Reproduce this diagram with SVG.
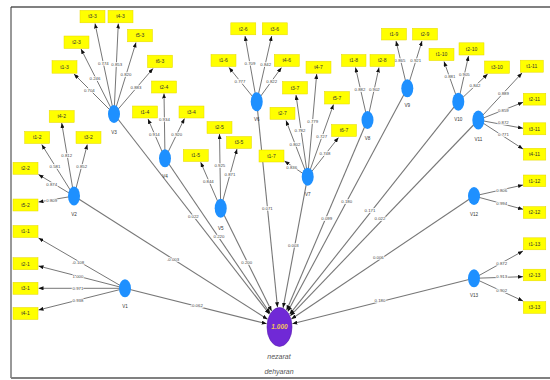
<svg xmlns="http://www.w3.org/2000/svg" width="550" height="380" viewBox="0 0 550 380">
<style>
.frame{stroke:#808080;stroke-width:2;fill:none}
.ln{stroke:#666;stroke-width:0.9;fill:none;marker-end:url(#ah)}
.lc{stroke:#777;stroke-width:1.1;fill:none;marker-end:url(#ah)}
.lbl{font-family:"Liberation Sans",Arial,sans-serif;font-size:4.3px;fill:#444;text-anchor:middle;paint-order:stroke;stroke:#fff;stroke-width:1.6px}
.box rect{fill:#ffff00;stroke:#e6d800;stroke-width:0.5}
.box text{font-family:"Liberation Sans",Arial,sans-serif;font-size:5px;fill:#333;text-anchor:middle}
.lv ellipse{fill:#1e90ff}
.lv text{font-family:"Liberation Sans",Arial,sans-serif;font-size:4.6px;fill:#333;text-anchor:middle}
</style>
<defs>
<marker id="ah" markerWidth="5" markerHeight="4" refX="5" refY="2" orient="auto" markerUnits="userSpaceOnUse"><path d="M0,0 L5,2 L0,4 z" fill="#111"/></marker>
</defs>
<rect width="550" height="380" fill="#fff"/>
<g id="frame">
<line x1="11" y1="7" x2="550" y2="7" class="frame"/>
<line x1="11" y1="7" x2="11" y2="378" stroke="#333" stroke-width="1"/>
<line x1="11" y1="378" x2="550" y2="378" class="frame"/>
</g>
<g id="connectors">
<!-- structural paths to center -->
<line class="lc" x1="125" y1="288.3" x2="266.7" y2="323.8"/>
<line class="lc" x1="74" y1="196" x2="267.5" y2="319.3"/>
<line class="lc" x1="114" y1="114" x2="269.5" y2="314.2"/>
<line class="lc" x1="165" y1="158.3" x2="270.1" y2="313.2"/>
<line class="lc" x1="220.7" y1="208.3" x2="271.6" y2="311.1"/>
<line class="lc" x1="256.7" y1="101.7" x2="277.5" y2="307.2"/>
<line class="lc" x1="307.7" y1="176.7" x2="283.1" y2="307.8"/>
<line class="lc" x1="367.5" y1="120" x2="286.6" y2="310.3"/>
<line class="lc" x1="407.3" y1="88.3" x2="287.8" y2="311.6"/>
<line class="lc" x1="458.3" y1="101.7" x2="289.6" y2="314.3"/>
<line class="lc" x1="478.3" y1="120" x2="290.3" y2="315.8"/>
<line class="lc" x1="474" y1="196" x2="291.4" y2="319"/>
<line class="lc" x1="474" y1="278.3" x2="292.3" y2="323.8"/>
<!-- V1 -->
<line class="ln" x1="125" y1="288.3" x2="38.5" y2="238"/>
<line class="ln" x1="125" y1="288.3" x2="38.5" y2="266"/>
<line class="ln" x1="125" y1="288.3" x2="38.5" y2="288.3"/>
<line class="ln" x1="125" y1="288.3" x2="38.5" y2="310"/>
<!-- V2 -->
<line class="ln" x1="74" y1="196" x2="41.7" y2="144.5"/>
<line class="ln" x1="74" y1="196" x2="61.7" y2="123"/>
<line class="ln" x1="74" y1="196" x2="87.3" y2="144.5"/>
<line class="ln" x1="74" y1="196" x2="38.5" y2="174.5"/>
<line class="ln" x1="74" y1="196" x2="38.5" y2="202"/>
<!-- V3 -->
<line class="ln" x1="114" y1="114" x2="95" y2="23.5"/>
<line class="ln" x1="114" y1="114" x2="118.3" y2="23.5"/>
<line class="ln" x1="114" y1="114" x2="136" y2="42.5"/>
<line class="ln" x1="114" y1="114" x2="81" y2="49"/>
<line class="ln" x1="114" y1="114" x2="153" y2="68.5"/>
<line class="ln" x1="114" y1="114" x2="74" y2="74"/>
<!-- V4 -->
<line class="ln" x1="165" y1="158.3" x2="148" y2="119"/>
<line class="ln" x1="165" y1="158.3" x2="164" y2="93.5"/>
<line class="ln" x1="165" y1="158.3" x2="184.5" y2="118.5"/>
<!-- V5 -->
<line class="ln" x1="220.7" y1="208.3" x2="200.7" y2="162.3"/>
<line class="ln" x1="220.7" y1="208.3" x2="219.5" y2="134"/>
<line class="ln" x1="220.7" y1="208.3" x2="237" y2="149"/>
<!-- V6 -->
<line class="ln" x1="256.7" y1="101.7" x2="229" y2="67.5"/>
<line class="ln" x1="256.7" y1="101.7" x2="245" y2="36"/>
<line class="ln" x1="256.7" y1="101.7" x2="271.7" y2="36"/>
<line class="ln" x1="256.7" y1="101.7" x2="281.5" y2="67.5"/>
<!-- V7 -->
<line class="ln" x1="307.7" y1="176.7" x2="316.7" y2="74"/>
<line class="ln" x1="307.7" y1="176.7" x2="296" y2="95"/>
<line class="ln" x1="307.7" y1="176.7" x2="333.5" y2="104.5"/>
<line class="ln" x1="307.7" y1="176.7" x2="286" y2="120.5"/>
<line class="ln" x1="307.7" y1="176.7" x2="338.5" y2="137.5"/>
<line class="ln" x1="307.7" y1="176.7" x2="284.5" y2="161"/>
<!-- V8 -->
<line class="ln" x1="367.5" y1="120" x2="355.5" y2="67.5"/>
<line class="ln" x1="367.5" y1="120" x2="379" y2="67.5"/>
<!-- V9 -->
<line class="ln" x1="407.3" y1="88.3" x2="396" y2="41"/>
<line class="ln" x1="407.3" y1="88.3" x2="422" y2="41"/>
<!-- V10 -->
<line class="ln" x1="458.3" y1="101.7" x2="444" y2="61.5"/>
<line class="ln" x1="458.3" y1="101.7" x2="468.5" y2="56"/>
<line class="ln" x1="458.3" y1="101.7" x2="487.7" y2="74"/>
<!-- V11 -->
<line class="ln" x1="478.3" y1="120" x2="522" y2="73"/>
<line class="ln" x1="478.3" y1="120" x2="523" y2="102.3"/>
<line class="ln" x1="478.3" y1="120" x2="523" y2="128.3"/>
<line class="ln" x1="478.3" y1="120" x2="523" y2="149"/>
<!-- V12 -->
<line class="ln" x1="474" y1="196" x2="523" y2="185"/>
<line class="ln" x1="474" y1="196" x2="523" y2="209.3"/>
<!-- V13 -->
<line class="ln" x1="474" y1="278.3" x2="523" y2="251"/>
<line class="ln" x1="474" y1="278.3" x2="523" y2="276.7"/>
<line class="ln" x1="474" y1="278.3" x2="523" y2="301"/>
<!-- labels -->
<text class="lbl" x="196.7" y="307">-0.062</text>
<text class="lbl" x="173" y="261">-0.003</text>
<text class="lbl" x="193.3" y="218.3">0.022</text>
<text class="lbl" x="219" y="238.3">0.220</text>
<text class="lbl" x="246.7" y="264.3">0.200</text>
<text class="lbl" x="267.3" y="210">0.071</text>
<text class="lbl" x="293.3" y="246.6">0.003</text>
<text class="lbl" x="326.7" y="220">0.099</text>
<text class="lbl" x="346.7" y="203.3">0.180</text>
<text class="lbl" x="370" y="211.6">0.171</text>
<text class="lbl" x="380" y="220">0.022</text>
<text class="lbl" x="378.3" y="259">0.006</text>
<text class="lbl" x="380" y="301.6">0.180</text>
<text class="lbl" x="78" y="263.5">-0.108</text>
<text class="lbl" x="78" y="278.3">1.000</text>
<text class="lbl" x="78" y="289.8">0.971</text>
<text class="lbl" x="78" y="301.6">0.938</text>
<text class="lbl" x="55" y="168.3">0.581</text>
<text class="lbl" x="66.7" y="156.6">0.812</text>
<text class="lbl" x="81.7" y="167.6">0.852</text>
<text class="lbl" x="51.7" y="185.6">0.874</text>
<text class="lbl" x="51.7" y="201.6">0.809</text>
<text class="lbl" x="103.3" y="64.9">0.774</text>
<text class="lbl" x="116.7" y="65.6">0.853</text>
<text class="lbl" x="126" y="75.6">0.820</text>
<text class="lbl" x="136" y="88.9">0.883</text>
<text class="lbl" x="95" y="79.9">0.246</text>
<text class="lbl" x="89.3" y="92.3">0.704</text>
<text class="lbl" x="154.3" y="135.6">0.914</text>
<text class="lbl" x="164.4" y="120.6">0.934</text>
<text class="lbl" x="176.7" y="135.6">0.920</text>
<text class="lbl" x="208.3" y="183.3">0.844</text>
<text class="lbl" x="219.8" y="166.6">0.925</text>
<text class="lbl" x="230" y="175.6">0.871</text>
<text class="lbl" x="240" y="82.6">0.777</text>
<text class="lbl" x="250" y="64.9">0.709</text>
<text class="lbl" x="265.7" y="65.6">0.842</text>
<text class="lbl" x="271.7" y="82.6">0.822</text>
<text class="lbl" x="312.7" y="122.6">0.779</text>
<text class="lbl" x="300" y="132.3">0.782</text>
<text class="lbl" x="321.7" y="137.6">0.727</text>
<text class="lbl" x="295" y="145.6">0.802</text>
<text class="lbl" x="325" y="154.9">0.748</text>
<text class="lbl" x="291.7" y="168.9">0.836</text>
<text class="lbl" x="360" y="90.9">0.882</text>
<text class="lbl" x="374.3" y="90.9">0.902</text>
<text class="lbl" x="400" y="62.3">0.865</text>
<text class="lbl" x="415.7" y="62.3">0.921</text>
<text class="lbl" x="450" y="77.6">0.881</text>
<text class="lbl" x="464.3" y="75.6">0.905</text>
<text class="lbl" x="475" y="86.6">0.842</text>
<text class="lbl" x="503.5" y="95.2">0.889</text>
<text class="lbl" x="503.3" y="112.2">0.859</text>
<text class="lbl" x="503.3" y="124.4">0.872</text>
<text class="lbl" x="503.5" y="135.6">0.771</text>
<text class="lbl" x="501.7" y="191.6">0.806</text>
<text class="lbl" x="501.7" y="204.6">0.994</text>
<text class="lbl" x="501.7" y="264.9">0.872</text>
<text class="lbl" x="501.7" y="278.3">0.913</text>
<text class="lbl" x="501.7" y="291.6">0.902</text>
</g>
<!-- indicator boxes -->
<g id="t1-1" class="box"><rect x="13" y="225.5" width="25" height="12"/><text x="25.5" y="233.3">t1-1</text></g>
<g id="t2-1" class="box"><rect x="13" y="257.7" width="25" height="12"/><text x="25.5" y="265.5">t2-1</text></g>
<g id="t3-1" class="box"><rect x="13" y="282.3" width="25" height="12"/><text x="25.5" y="290.1">t3-1</text></g>
<g id="t4-1" class="box"><rect x="13" y="307.5" width="25" height="12"/><text x="25.5" y="315.3">t4-1</text></g>
<g id="t2-2" class="box"><rect x="13" y="162.3" width="25" height="12"/><text x="25.5" y="170.1">t2-2</text></g>
<g id="t5-2" class="box"><rect x="13" y="199" width="25" height="12"/><text x="25.5" y="206.8">t5-2</text></g>
<g id="t1-2" class="box"><rect x="24.7" y="131.5" width="25" height="12"/><text x="37.2" y="139.3">t1-2</text></g>
<g id="t4-2" class="box"><rect x="49.2" y="110.5" width="25" height="12"/><text x="61.7" y="118.3">t4-2</text></g>
<g id="t3-2" class="box"><rect x="76" y="131.5" width="25" height="12"/><text x="88.5" y="139.3">t3-2</text></g>
<g id="t3-3" class="box"><rect x="80" y="10.3" width="25" height="12.5"/><text x="92.5" y="18.3">t3-3</text></g>
<g id="t4-3" class="box"><rect x="108" y="10.3" width="25" height="12.5"/><text x="120.5" y="18.3">t4-3</text></g>
<g id="t5-3" class="box"><rect x="127.5" y="29.3" width="25" height="12.5"/><text x="140" y="37.3">t5-3</text></g>
<g id="t2-3" class="box"><rect x="64" y="36" width="25" height="12.5"/><text x="76.5" y="44">t2-3</text></g>
<g id="t6-3" class="box"><rect x="147.5" y="55.2" width="25" height="12.5"/><text x="160" y="63.2">t6-3</text></g>
<g id="t1-3" class="box"><rect x="52" y="60.7" width="25" height="12.5"/><text x="64.5" y="68.7">t1-3</text></g>
<g id="t2-4" class="box"><rect x="151.5" y="81" width="25" height="12"/><text x="164" y="88.8">t2-4</text></g>
<g id="t1-4" class="box"><rect x="132.5" y="106" width="25" height="12"/><text x="145" y="113.8">t1-4</text></g>
<g id="t3-4" class="box"><rect x="179" y="106" width="25" height="12"/><text x="191.5" y="113.8">t3-4</text></g>
<g id="t1-5" class="box"><rect x="183.3" y="149.5" width="25" height="12"/><text x="195.8" y="157.3">t1-5</text></g>
<g id="t2-5" class="box"><rect x="207" y="121.5" width="25" height="12"/><text x="219.5" y="129.3">t2-5</text></g>
<g id="t3-5" class="box"><rect x="226.5" y="136.5" width="25" height="12"/><text x="239" y="144.3">t3-5</text></g>
<g id="t2-6" class="box"><rect x="230.8" y="22.8" width="25" height="12"/><text x="243.3" y="30.6">t2-6</text></g>
<g id="t3-6" class="box"><rect x="262.3" y="22.8" width="25" height="12"/><text x="274.8" y="30.6">t3-6</text></g>
<g id="t1-6" class="box"><rect x="211" y="54.5" width="25" height="12"/><text x="223.5" y="62.3">t1-6</text></g>
<g id="t4-6" class="box"><rect x="274.3" y="54.5" width="25" height="12"/><text x="286.8" y="62.3">t4-6</text></g>
<g id="t4-7" class="box"><rect x="306" y="61.2" width="25" height="12"/><text x="318.5" y="69">t4-7</text></g>
<g id="t3-7" class="box"><rect x="282.5" y="81.5" width="25" height="12.5"/><text x="295" y="89.5">t3-7</text></g>
<g id="t5-7" class="box"><rect x="324.5" y="91.5" width="25" height="12.5"/><text x="337" y="99.5">t5-7</text></g>
<g id="t2-7" class="box"><rect x="270" y="107.3" width="25" height="12"/><text x="282.5" y="115.1">t2-7</text></g>
<g id="t6-7" class="box"><rect x="331.5" y="124.5" width="25" height="12"/><text x="344" y="132.3">t6-7</text></g>
<g id="t1-7" class="box"><rect x="259" y="150" width="25" height="12"/><text x="271.5" y="157.8">t1-7</text></g>
<g id="t1-8" class="box"><rect x="341.5" y="54.5" width="24.5" height="12"/><text x="353.8" y="62.3">t1-8</text></g>
<g id="t2-8" class="box"><rect x="370" y="54.5" width="24.5" height="12"/><text x="382.2" y="62.3">t2-8</text></g>
<g id="t1-9" class="box"><rect x="381.5" y="28.3" width="25" height="11.7"/><text x="394" y="36">t1-9</text></g>
<g id="t2-9" class="box"><rect x="412.5" y="28.3" width="25" height="11.7"/><text x="425" y="36">t2-9</text></g>
<g id="t1-10" class="box"><rect x="429" y="48.4" width="25" height="12.2"/><text x="441.5" y="56.3">t1-10</text></g>
<g id="t2-10" class="box"><rect x="459" y="42.8" width="25" height="12.2"/><text x="471.5" y="50.7">t2-10</text></g>
<g id="t3-10" class="box"><rect x="484.5" y="61" width="25" height="12.3"/><text x="497" y="68.9">t3-10</text></g>
<g id="t1-11" class="box"><rect x="520.3" y="60.2" width="23" height="12"/><text x="531.8" y="68">t1-11</text></g>
<g id="t2-11" class="box"><rect x="523.3" y="93.3" width="22.5" height="11.8"/><text x="534.5" y="101">t2-11</text></g>
<g id="t3-11" class="box"><rect x="523.3" y="122.8" width="22.5" height="12"/><text x="534.5" y="130.6">t3-11</text></g>
<g id="t4-11" class="box"><rect x="523.3" y="148.3" width="22.5" height="11.8"/><text x="534.5" y="156">t4-11</text></g>
<g id="t1-12" class="box"><rect x="523.3" y="175" width="22.5" height="11.7"/><text x="534.5" y="182.7">t1-12</text></g>
<g id="t2-12" class="box"><rect x="523.3" y="206.6" width="22.5" height="11.8"/><text x="534.5" y="214.3">t2-12</text></g>
<g id="t1-13" class="box"><rect x="523.3" y="237.8" width="22.5" height="12"/><text x="534.5" y="245.6">t1-13</text></g>
<g id="t2-13" class="box"><rect x="523.3" y="269.2" width="22.5" height="11.6"/><text x="534.5" y="276.8">t2-13</text></g>
<g id="t3-13" class="box"><rect x="523.3" y="301.6" width="22.5" height="11.8"/><text x="534.5" y="309.3">t3-13</text></g>
<!-- latent variables -->
<g id="V1" class="lv"><ellipse cx="125" cy="288.3" rx="6" ry="9"/><text x="125" y="307.8">V1</text></g>
<g id="V2" class="lv"><ellipse cx="74" cy="196" rx="6" ry="9.5"/><text x="74" y="216.3">V2</text></g>
<g id="V3" class="lv"><ellipse cx="114" cy="114" rx="6" ry="9"/><text x="114" y="134.3">V3</text></g>
<g id="V4" class="lv"><ellipse cx="165" cy="158.3" rx="6" ry="9"/><text x="165" y="178">V4</text></g>
<g id="V5" class="lv"><ellipse cx="220.7" cy="208.3" rx="6" ry="9.5"/><text x="220.7" y="229.6">V5</text></g>
<g id="V6" class="lv"><ellipse cx="256.7" cy="101.7" rx="6" ry="9.5"/><text x="256.7" y="121.3">V6</text></g>
<g id="V7" class="lv"><ellipse cx="307.7" cy="176.7" rx="6" ry="9"/><text x="307.7" y="196.3">V7</text></g>
<g id="V8" class="lv"><ellipse cx="367.5" cy="120" rx="6" ry="9"/><text x="367.5" y="139.6">V8</text></g>
<g id="V9" class="lv"><ellipse cx="407.3" cy="88.3" rx="6" ry="9"/><text x="407.3" y="107.3">V9</text></g>
<g id="V10" class="lv"><ellipse cx="458.3" cy="101.7" rx="6" ry="9"/><text x="458.3" y="120.6">V10</text></g>
<g id="V11" class="lv"><ellipse cx="478.3" cy="120" rx="6" ry="9.5"/><text x="478.3" y="140.6">V11</text></g>
<g id="V12" class="lv"><ellipse cx="474" cy="196" rx="6" ry="9"/><text x="474" y="216.3">V12</text></g>
<g id="V13" class="lv"><ellipse cx="474" cy="278.3" rx="6" ry="9"/><text x="474" y="297.3">V13</text></g>
<!-- target construct -->
<g id="nezarat-dehyaran">
<ellipse cx="279.5" cy="327" rx="12.5" ry="19.5" fill="#7029d6" stroke="#5a1db0" stroke-width="0.6"/>
<text x="279.5" y="329.3" font-family="Liberation Sans, Arial, sans-serif" font-size="6.5" font-weight="bold" font-style="italic" fill="#f2c35a" text-anchor="middle">1.000</text>
<text x="279" y="358.5" font-family="Liberation Sans, Arial, sans-serif" font-size="7" font-style="italic" fill="#555" text-anchor="middle">nezarat</text>
<text x="279" y="373.5" font-family="Liberation Sans, Arial, sans-serif" font-size="7" font-style="italic" fill="#555" text-anchor="middle">dehyaran</text>
</g>
</svg>
